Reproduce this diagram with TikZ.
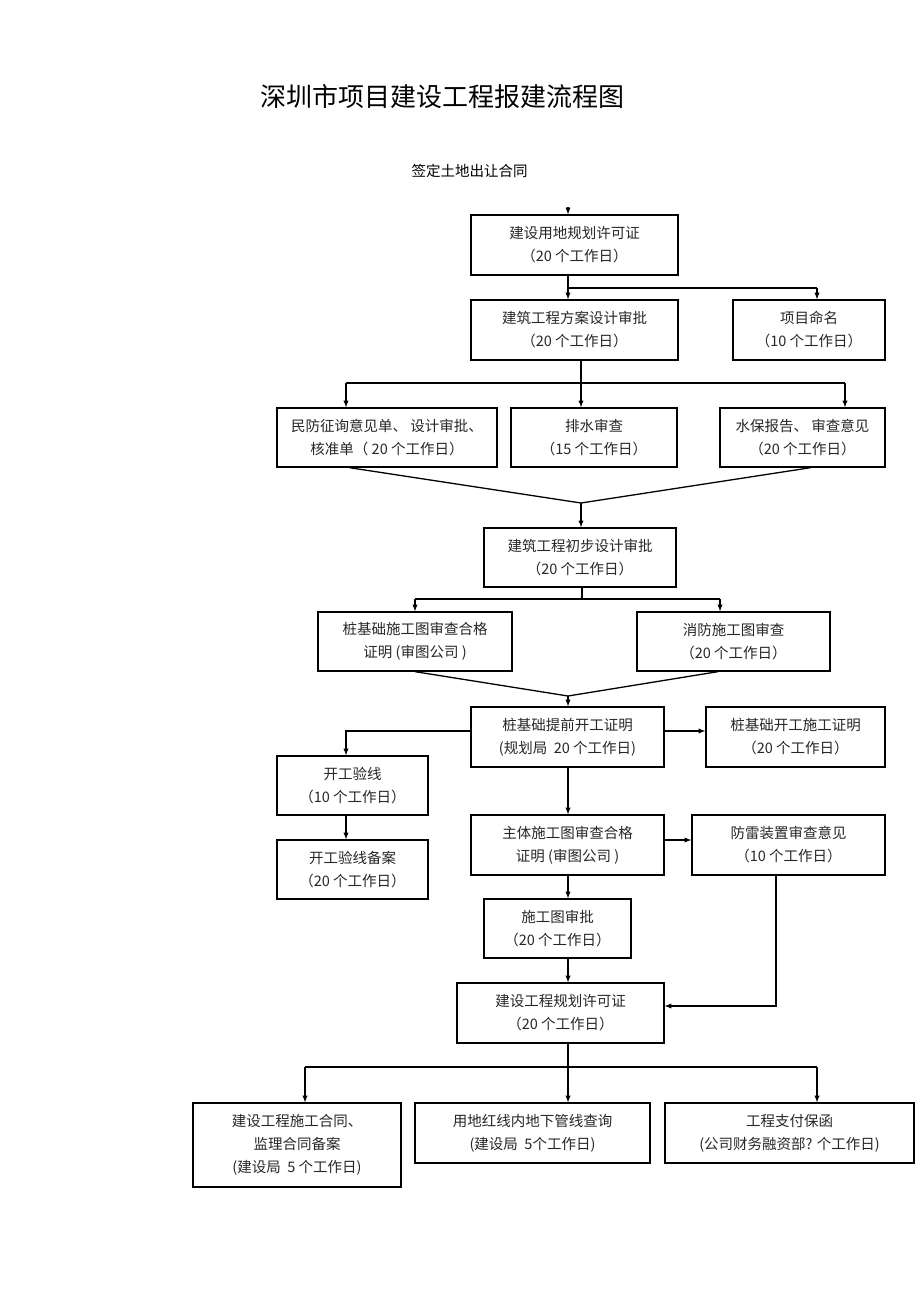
\documentclass[tikz,border=0pt]{standalone}
\usepackage{fontspec}
\newfontfamily\cjk{Noto Sans CJK SC}
\usepackage{tikz}
\usetikzlibrary{positioning}
\usetikzlibrary{arrows}
\usetikzlibrary{calc}

\begin{document}
\begin{tikzpicture}[x=1pt, y=-1pt, >=latex,
  box/.style={draw, line width=1.3pt, inner sep=0pt, align=center, text=black!85, font=\cjk\fontsize{14.5}{23}\selectfont},
  flow/.style={->, line width=1.3pt},
  link/.style={line width=1.3pt}]

\useasboundingbox (0,0) rectangle (920,1301);

% title
\node [font=\cjk\fontsize{26}{26}\selectfont] (title) at (442,97) {深圳市项目建设工程报建流程图};
\node [font=\cjk\fontsize{14.5}{15}\selectfont] (start) at (469.5,171) {签定土地出让合同};

% boxes
\node [box, minimum width=207pt, minimum height=60pt] (ydxk) at (574.5,245) {建设用地规划许可证\\（20 个工作日）};
\node [box, minimum width=207pt, minimum height=60pt] (fasj) at (574.5,330) {建筑工程方案设计审批\\（20 个工作日）};
\node [box, minimum width=152pt, minimum height=60pt] (xmmm) at (809,330) {项目命名\\（10 个工作日）};
\node [box, minimum width=220pt, minimum height=59pt] (mfzx) at (387,437.5) {民防征询意见单、 设计审批、\\核准单（ 20 个工作日）};
\node [box, minimum width=166pt, minimum height=59pt] (psc) at (594,437.5) {排水审查\\（15 个工作日）};
\node [box, minimum width=165pt, minimum height=59pt] (sbbg) at (802.5,437.5) {水保报告、 审查意见\\（20 个工作日）};
\node [box, minimum width=192pt, minimum height=59pt] (cbsj) at (580,557.5) {建筑工程初步设计审批\\（20 个工作日）};
\node [box, minimum width=194pt, minimum height=59pt] (zjsc) at (415,641.5) {桩基础施工图审查合格\\证明 (审图公司 )};
\node [box, minimum width=193pt, minimum height=59pt] (xfsc) at (733.5,641.5) {消防施工图审查\\（20 个工作日）};
\node [box, minimum width=193pt, minimum height=60pt] (tqkg) at (567.5,737) {桩基础提前开工证明\\(规划局\ \ 20 个工作日)};
\node [box, minimum width=179pt, minimum height=60pt] (kgsg) at (795.5,737) {桩基础开工施工证明\\（20 个工作日）};
\node [box, minimum width=151pt, minimum height=59pt] (kgyx) at (352.5,785.5) {开工验线\\（10 个工作日）};
\node [box, minimum width=151pt, minimum height=59pt] (yxba) at (352.5,869.5) {开工验线备案\\（20 个工作日）};
\node [box, minimum width=193pt, minimum height=60pt] (ztsc) at (567.5,845) {主体施工图审查合格\\证明 (审图公司 )};
\node [box, minimum width=193pt, minimum height=60pt] (flzz) at (788.5,845) {防雷装置审查意见\\（10 个工作日）};
\node [box, minimum width=147pt, minimum height=59pt] (sgsp) at (557.5,928.5) {施工图审批\\（20 个工作日）};
\node [box, minimum width=207pt, minimum height=60pt] (ghxk) at (560.5,1013) {建设工程规划许可证\\（20 个工作日）};
\node [box, minimum width=208pt, minimum height=84pt] (htba) at (297,1145) {建设工程施工合同、\\监理合同备案\\(建设局\ \ 5 个工作日)};
\node [box, minimum width=235pt, minimum height=60pt] (gxcx) at (532.5,1133) {用地红线内地下管线查询\\(建设局\ \ 5个工作日)};
\node [box, minimum width=249pt, minimum height=60pt] (zfbh) at (789.5,1133) {工程支付保函\\(公司财务融资部? 个工作日)};

% top part
\coordinate (s0) at (568,207);
\draw [flow] (s0) -- (s0 |- ydxk.north);
\coordinate (j1) at (568,288);
\coordinate (j1r) at (817,288);
\draw [flow] (ydxk.south -| j1) -- (fasj.north -| j1);
\draw [link] (j1) -- (j1r);
\draw [flow] (j1r) -- (j1r |- xmmm.north);

% three reviews
\coordinate (j2) at (581,383);
\coordinate (j2l) at (346,383);
\coordinate (j2r) at (845,383);
\draw [flow] (fasj.south -| j2) -- (psc.north -| j2);
\draw [link] (j2l) -- (j2r);
\draw [flow] (j2l) -- (j2l |- mfzx.north);
\draw [flow] (j2r) -- (j2r |- sbbg.north);
\coordinate (j3) at (581,503);
\draw [link] ($(mfzx.south west)!0.33!(mfzx.south east)$) -- (j3) -- ($(sbbg.south west)!0.55!(sbbg.south east)$);
\draw [flow] (j3) -- (j3 |- cbsj.north);

% pile and fire
\coordinate (j4) at (582,599);
\coordinate (j4l) at (415,599);
\coordinate (j4r) at (720,599);
\draw [link] (cbsj.south -| j4) -- (j4);
\draw [link] (j4l) -- (j4r);
\draw [flow] (j4l) -- (j4l |- zjsc.north);
\draw [flow] (j4r) -- (j4r |- xfsc.north);
\coordinate (j5) at (568,696);
\draw [link] (zjsc.south) -- (j5) -- ($(xfsc.south west)!0.42!(xfsc.south east)$);
\draw [flow] (j5) -- (j5 |- tqkg.north);

% early start
\coordinate (j6) at (346,731);
\draw [flow] (tqkg.west |- j6) -- (j6) -- (j6 |- kgyx.north);
\draw [flow] (tqkg.east |- j6) -- (kgsg.west |- j6);
\draw [flow] (kgyx.south -| j6) -- (yxba.north -| j6);
\draw [flow] (tqkg.south -| j5) -- (ztsc.north -| j5);
\draw [flow] ($(ztsc.east)+(0,-5)$) -- ($(flzz.west)+(0,-5)$);
\draw [flow] (ztsc.south -| j5) -- (sgsp.north -| j5);
\draw [flow] (sgsp.south -| j5) -- (ghxk.north -| j5);
\coordinate (j7) at (776,1006);
\draw [flow] (flzz.south -| j7) -- (j7) -- (ghxk.east |- j7);

% last row
\coordinate (j8) at (568,1067);
\coordinate (j8l) at (305,1067);
\coordinate (j8r) at (817,1067);
\draw [flow] (ghxk.south -| j8) -- (gxcx.north -| j8);
\draw [link] (j8l) -- (j8r);
\draw [flow] (j8l) -- (j8l |- htba.north);
\draw [flow] (j8r) -- (j8r |- zfbh.north);

\end{tikzpicture}
\end{document}
